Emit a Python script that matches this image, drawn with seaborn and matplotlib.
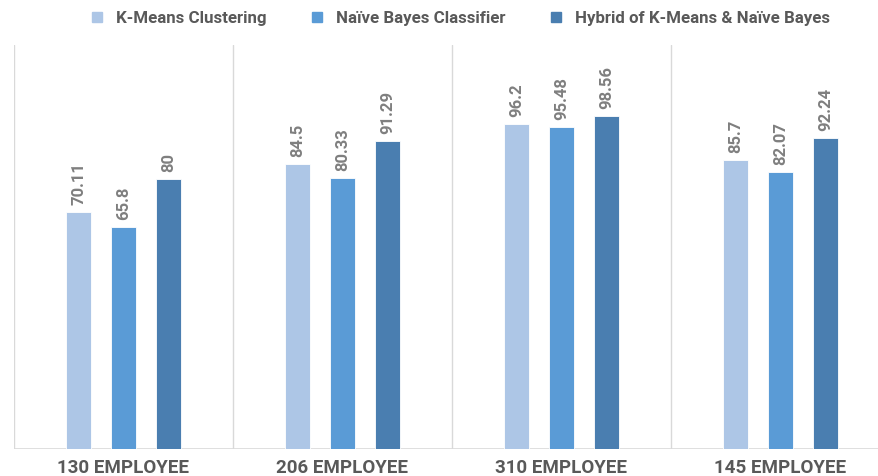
import matplotlib
matplotlib.use("Agg")
import matplotlib.pyplot as plt
import seaborn as sns
import pandas as pd
from matplotlib.lines import Line2D

categories = ["130 EMPLOYEE", "206 EMPLOYEE", "310 EMPLOYEE", "145 EMPLOYEE"]
series_names = ["K-Means Clustering", "Naïve Bayes Classifier", "Hybrid of K-Means & Naïve Bayes"]
kmeans = [70.11, 84.5, 96.2, 85.7]
naive_bayes = [65.8, 80.33, 95.48, 82.07]
hybrid = [80, 91.29, 98.56, 92.24]
colors = ["#ADC6E6", "#5A9BD6", "#4A7EB0"]

rows = []
for name, vals in zip(series_names, [kmeans, naive_bayes, hybrid]):
    for c, v in zip(categories, vals):
        rows.append({"cat": c, "series": name, "value": v})
df = pd.DataFrame(rows)

sns.set_theme(style="white")
plt.rcParams['font.family'] = ['Roboto', 'DejaVu Sans']

fig = plt.figure(figsize=(8.79, 4.76), dpi=100)
ax = fig.add_axes([14/879, 27/476, 876/879, 404/476])

sns.barplot(data=df, x="cat", y="value", hue="series", order=categories,
            hue_order=series_names, palette=colors, saturation=1, width=0.615, gap=0.46,
            edgecolor="white", linewidth=0.6, ax=ax, legend=False, errorbar=None)

for cont in ax.containers:
    ax.bar_label(cont, labels=[f"{v:g}" for v in cont.datavalues], rotation=90,
                 padding=5, color="#7F7F7F", fontsize=12, fontweight="bold")

ax.set_ylim(0, 119.7)
ax.set_xlim(-0.5, len(categories) - 0.5)
for i in range(len(categories) + 1):
    ax.axvline(i - 0.5, color="#D9D9D9", lw=1, zorder=0)
ax.axhline(0, color="#D9D9D9", lw=1.2, zorder=0)
for s in ax.spines.values():
    s.set_visible(False)
ax.set_yticks([])
ax.set_xlabel("")
ax.set_ylabel("")
ax.tick_params(axis="x", length=0, pad=7.5)
ax.set_xticks(range(len(categories)))
ax.set_xticklabels(categories, fontsize=13.5, fontweight="bold", color="#595959")

handles = [Line2D([], [], marker="s", linestyle="", markersize=7, color=c) for c in colors]
fig.legend(handles, series_names, loc="center", bbox_to_anchor=(455/879, 1 - 18/476),
           ncol=3, frameon=False, handletextpad=0.1, columnspacing=2.0,
           labelcolor="#595959", prop={"family": ["Roboto", "DejaVu Sans"], "weight": "bold", "size": 12.2})

fig.savefig("out.png", dpi=100)
